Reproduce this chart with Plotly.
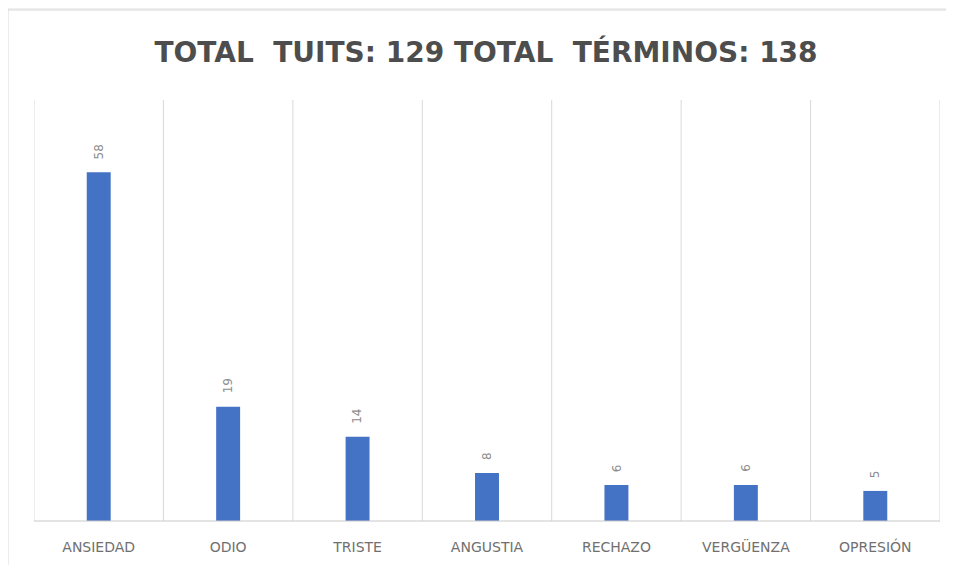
import plotly.graph_objects as go

categories = ["ANSIEDAD", "ODIO", "TRISTE", "ANGUSTIA", "RECHAZO", "VERGÜENZA", "OPRESIÓN"]
values = [58, 19, 14, 8, 6, 6, 5]
title_text = "TOTAL&nbsp; TUITS: 129 TOTAL&nbsp; TÉRMINOS: 138"

# page body has an 8px margin, so the figure is sized to fit the window
W, H = 946, 557
L, R, T, B = 26, 14, 92, 44
pw, ph = W - L - R, H - T - B

def px_x(p):
    return (p - L) / pw

def px_y(p):
    return (H - B - p) / ph

fig = go.Figure()
fig.add_trace(go.Bar(
    x=categories, y=values,
    marker=dict(color="#4472C4", line=dict(width=0)),
    hoverinfo="x+y",
))

annotations = []
for c, v in zip(categories, values):
    annotations.append(dict(
        x=c, y=v, xref="x", yref="y", text=str(v), showarrow=False,
        textangle=-90, yanchor="bottom", xanchor="center", yshift=11,
        font=dict(family="DejaVu Sans", size=12, color="#8c8c8c"),
    ))

shapes = [
    dict(type="rect", xref="paper", yref="paper",
         x0=px_x(0), x1=px_x(952), y0=px_y(562), y1=px_y(2),
         fillcolor="white", line=dict(color="#d9d9d9", width=1), layer="below"),
]
for i in range(len(categories) + 1):
    shapes.append(dict(type="line", xref="x", yref="paper",
                       x0=i - 0.5, x1=i - 0.5, y0=0, y1=1,
                       line=dict(color="#d9d9d9", width=1), layer="below"))
shapes.append(dict(type="line", xref="paper", yref="paper", x0=0, x1=1, y0=0, y1=0,
                   line=dict(color="#c8c8c8", width=1)))

fig.update_layout(
    width=W, height=H,
    margin=dict(l=L, r=R, t=T, b=B, autoexpand=False),
    paper_bgcolor="#efefef",
    plot_bgcolor="rgba(0,0,0,0)",
    title=dict(text="<b>" + title_text + "</b>", x=478 / W, xanchor="center",
               y=1 - 44 / H, yanchor="middle",
               font=dict(family="DejaVu Sans", size=28, color="#4d4d4d")),
    bargap=0.815,
    showlegend=False,
    shapes=shapes,
    annotations=annotations,
    xaxis=dict(showgrid=False, showline=False, ticks="", automargin=False,
               range=[-0.5, len(categories) - 0.5],
               ticklabelstandoff=16,
               tickfont=dict(family="DejaVu Sans", size=14, color="#707070")),
    yaxis=dict(range=[0, 70], showgrid=False, showticklabels=False, zeroline=False,
               showline=False, automargin=False),
)

fig.write_html("out.html")
